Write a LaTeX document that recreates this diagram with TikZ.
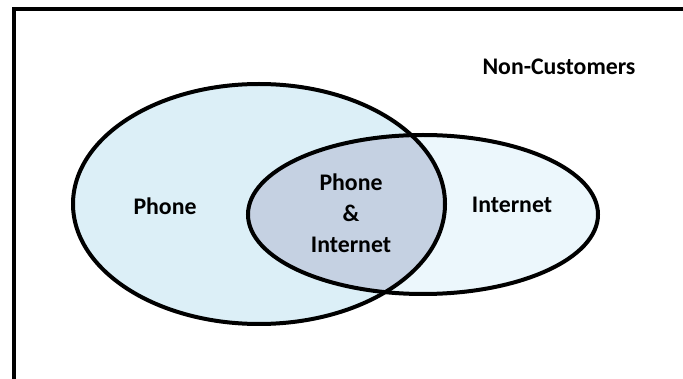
\documentclass[tikz,border=0pt]{standalone}
\usepackage{fontspec}
\setmainfont{Carlito}
\definecolor{phonefill}{RGB}{220,239,247}
\definecolor{netfill}{RGB}{236,247,252}
\definecolor{bothfill}{RGB}{197,209,226}
\begin{document}
\begin{tikzpicture}[x=1pt,y=-1pt,
  outline/.style={draw=black,line width=4pt},
  lbl/.style={font=\fontsize{23.8}{31}\selectfont\bfseries,align=center,inner sep=0pt}]
\useasboundingbox (0,0) rectangle (683,379);
\begin{scope}
\clip (0,0) rectangle (683,379);
\coordinate (phc) at (259,204);
\coordinate (inc) at (423,214.5);
\fill[phonefill] (phc) ellipse [x radius=186, y radius=120];
\fill[netfill] (inc) ellipse [x radius=175, y radius=79.5];
\begin{scope}
\clip (phc) ellipse [x radius=186, y radius=120];
\fill[bothfill] (inc) ellipse [x radius=175, y radius=79.5];
\end{scope}
\draw[outline] (phc) ellipse [x radius=186, y radius=120];
\draw[outline] (inc) ellipse [x radius=175, y radius=79.5];
\coordinate (bl) at (14,390);
\coordinate (tl) at (14,9);
\coordinate (tr) at (700,9);
\draw[line width=4pt] (bl) -- (tl) -- (tr);
\end{scope}
\node[lbl] (nc) at (559,67) {Non-Customers};
\node[lbl] (ph) at (165,206) {Phone};
\node[lbl] (both) at (351,213) {Phone\\\&\\Internet};
\node[lbl] (net) at (512,205) {Internet};
\end{tikzpicture}
\end{document}
